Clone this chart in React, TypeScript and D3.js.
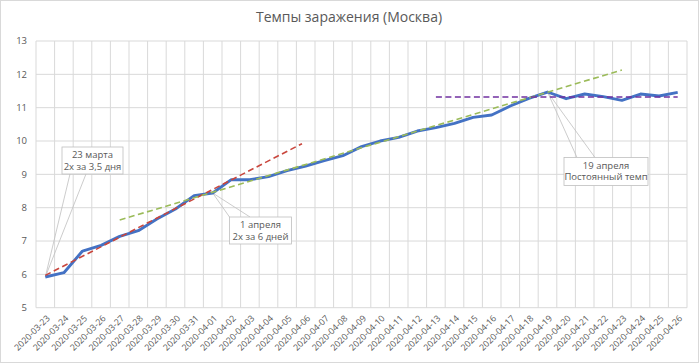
import * as d3 from 'd3';

const dates = [
  '2020-03-23', '2020-03-24', '2020-03-25', '2020-03-26', '2020-03-27', '2020-03-28', '2020-03-29',
  '2020-03-30', '2020-03-31', '2020-04-01', '2020-04-02', '2020-04-03', '2020-04-04', '2020-04-05',
  '2020-04-06', '2020-04-07', '2020-04-08', '2020-04-09', '2020-04-10', '2020-04-11', '2020-04-12',
  '2020-04-13', '2020-04-14', '2020-04-15', '2020-04-16', '2020-04-17', '2020-04-18', '2020-04-19',
  '2020-04-20', '2020-04-21', '2020-04-22', '2020-04-23', '2020-04-24', '2020-04-25', '2020-04-26',
];

// log2 of cases
const values = [
  5.92, 6.05, 6.70, 6.87, 7.14, 7.31, 7.66, 7.96, 8.36, 8.44, 8.84, 8.84, 8.93, 9.11,
  9.25, 9.41, 9.56, 9.83, 10.0, 10.11, 10.30, 10.40, 10.53, 10.71, 10.78, 11.05, 11.28, 11.47,
  11.27, 11.41, 11.33, 11.22, 11.41, 11.35, 11.46,
];

const yTicks = [5, 6, 7, 8, 9, 10, 11, 12, 13];

// trend lines: [day index, value]
const trendRed: [number, number][] = [[0, 5.97], [13.8, 9.92]];
const trendGreen: [number, number][] = [[4, 7.63], [31, 12.13]];
const trendPurple: [number, number][] = [[21, 11.32], [34, 11.32]];

const callouts = [
  { idx: 0, lines: ['23 марта', '2х за 3,5 дня'] },
  { idx: 9, lines: ['1 апреля', '2х за 6 дней'] },
  { idx: 27, lines: ['19 апреля', 'Постоянный темп'] },
];

const W = 700;
const H = 364;
const M = { left: 36, right: 13, top: 41, bottom: 56.3 };
const FONT = '"Open Sans", sans-serif';
const TXT = '#595959';
const GRID = '#d9d9d9';

export default function App() {
  const x = d3.scaleBand<string>().domain(dates).range([M.left, W - M.right]);
  const bw = x.bandwidth();
  const cx = (i: number) => (x(dates[0]) as number) + bw / 2 + i * bw;
  const y = d3.scaleLinear().domain([5, 13]).range([H - M.bottom, M.top]);

  const line = d3.line<number>().x((_, i) => cx(i)).y((d) => y(d));
  const trend = d3.line<[number, number]>().x((d) => cx(d[0])).y((d) => y(d[1]));

  // callout boxes and where the leader wedge meets them
  const boxes = [
    { x0: 62, y0: 147, w: 61, h: 27, l1: 70, l2: 86 },
    { x0: 229.5, y0: 217, w: 62, h: 27, l1: 229.5, l2: 250 },
    { x0: 564, y0: 157.5, w: 84, h: 28, l1: 577, l2: 595 },
  ];

  return (
    <div style={{ position: 'fixed', left: 0, top: 0 }}>
      <svg width={W} height={H} style={{ display: 'block', background: '#fff' }}>
        <rect x={0.5} y={0.5} width={W - 2} height={H - 2} fill="#fff" stroke={GRID} />
        <text x={349} y={22} textAnchor="middle" fontFamily={FONT} fontSize={14} fill={TXT}>
          Темпы заражения (Москва)
        </text>

        {/* grid */}
        {yTicks.map((t) => (
          <line key={'h' + t} x1={M.left} x2={W - M.right} y1={y(t)} y2={y(t)} stroke={GRID} />
        ))}
        {d3.range(dates.length + 1).map((k) => {
          const gx = M.left + k * bw;
          return <line key={'v' + k} x1={gx} x2={gx} y1={M.top} y2={y(5)} stroke={GRID} />;
        })}

        {/* y labels */}
        {yTicks.map((t) => (
          <text key={'yl' + t} x={27} y={y(t)} dy="0.35em" textAnchor="end" fontFamily={FONT} fontSize={9.5} fill={TXT}>
            {t}
          </text>
        ))}

        {/* x labels */}
        {dates.map((d, i) => (
          <text
            key={d}
            transform={`translate(${cx(i) + 3},${y(5) + 9}) rotate(-45)`}
            dy="0.35em"
            textAnchor="end"
            fontFamily={FONT}
            fontSize={8.8}
            fill={TXT}
          >
            {d}
          </text>
        ))}

        {/* callout leaders */}
        {callouts.map((c, k) => {
          const b = boxes[k];
          const px = cx(c.idx);
          const py = y(values[c.idx]);
          const by = k === 0 ? b.y0 + b.h : b.y0;
          return (
            <g key={'lead' + k} stroke="#bfbfbf" strokeWidth={0.8} fill="none">
              <line x1={px} y1={py} x2={b.l1} y2={by} />
              <line x1={px} y1={py} x2={b.l2} y2={by} />
            </g>
          );
        })}

        {/* series and trends */}
        <path d={line(values) || ''} fill="none" stroke="#4472C4" strokeWidth={2.9} strokeLinejoin="round" />
        <path d={trend(trendRed) || ''} fill="none" stroke="#C9463D" strokeWidth={1.6} strokeDasharray="6,3.5" />
        <path d={trend(trendGreen) || ''} fill="none" stroke="#9BBB59" strokeWidth={1.6} strokeDasharray="6,3.5" />
        <path d={trend(trendPurple) || ''} fill="none" stroke="#7030A0" strokeWidth={1.6} strokeDasharray="6,3.5" />

        {/* callout boxes */}
        {callouts.map((c, k) => {
          const b = boxes[k];
          return (
            <g key={'box' + k}>
              <rect x={b.x0} y={b.y0} width={b.w} height={b.h} fill="#fff" stroke="#bfbfbf" strokeWidth={0.8} />
              {c.lines.map((t, j) => (
                <text
                  key={j}
                  x={b.x0 + b.w / 2}
                  y={b.y0 + 8 + j * 11.5}
                  dy="0.35em"
                  textAnchor="middle"
                  fontFamily={FONT}
                  fontSize={9.5}
                  fill={TXT}
                >
                  {t}
                </text>
              ))}
            </g>
          );
        })}
      </svg>
    </div>
  );
}
